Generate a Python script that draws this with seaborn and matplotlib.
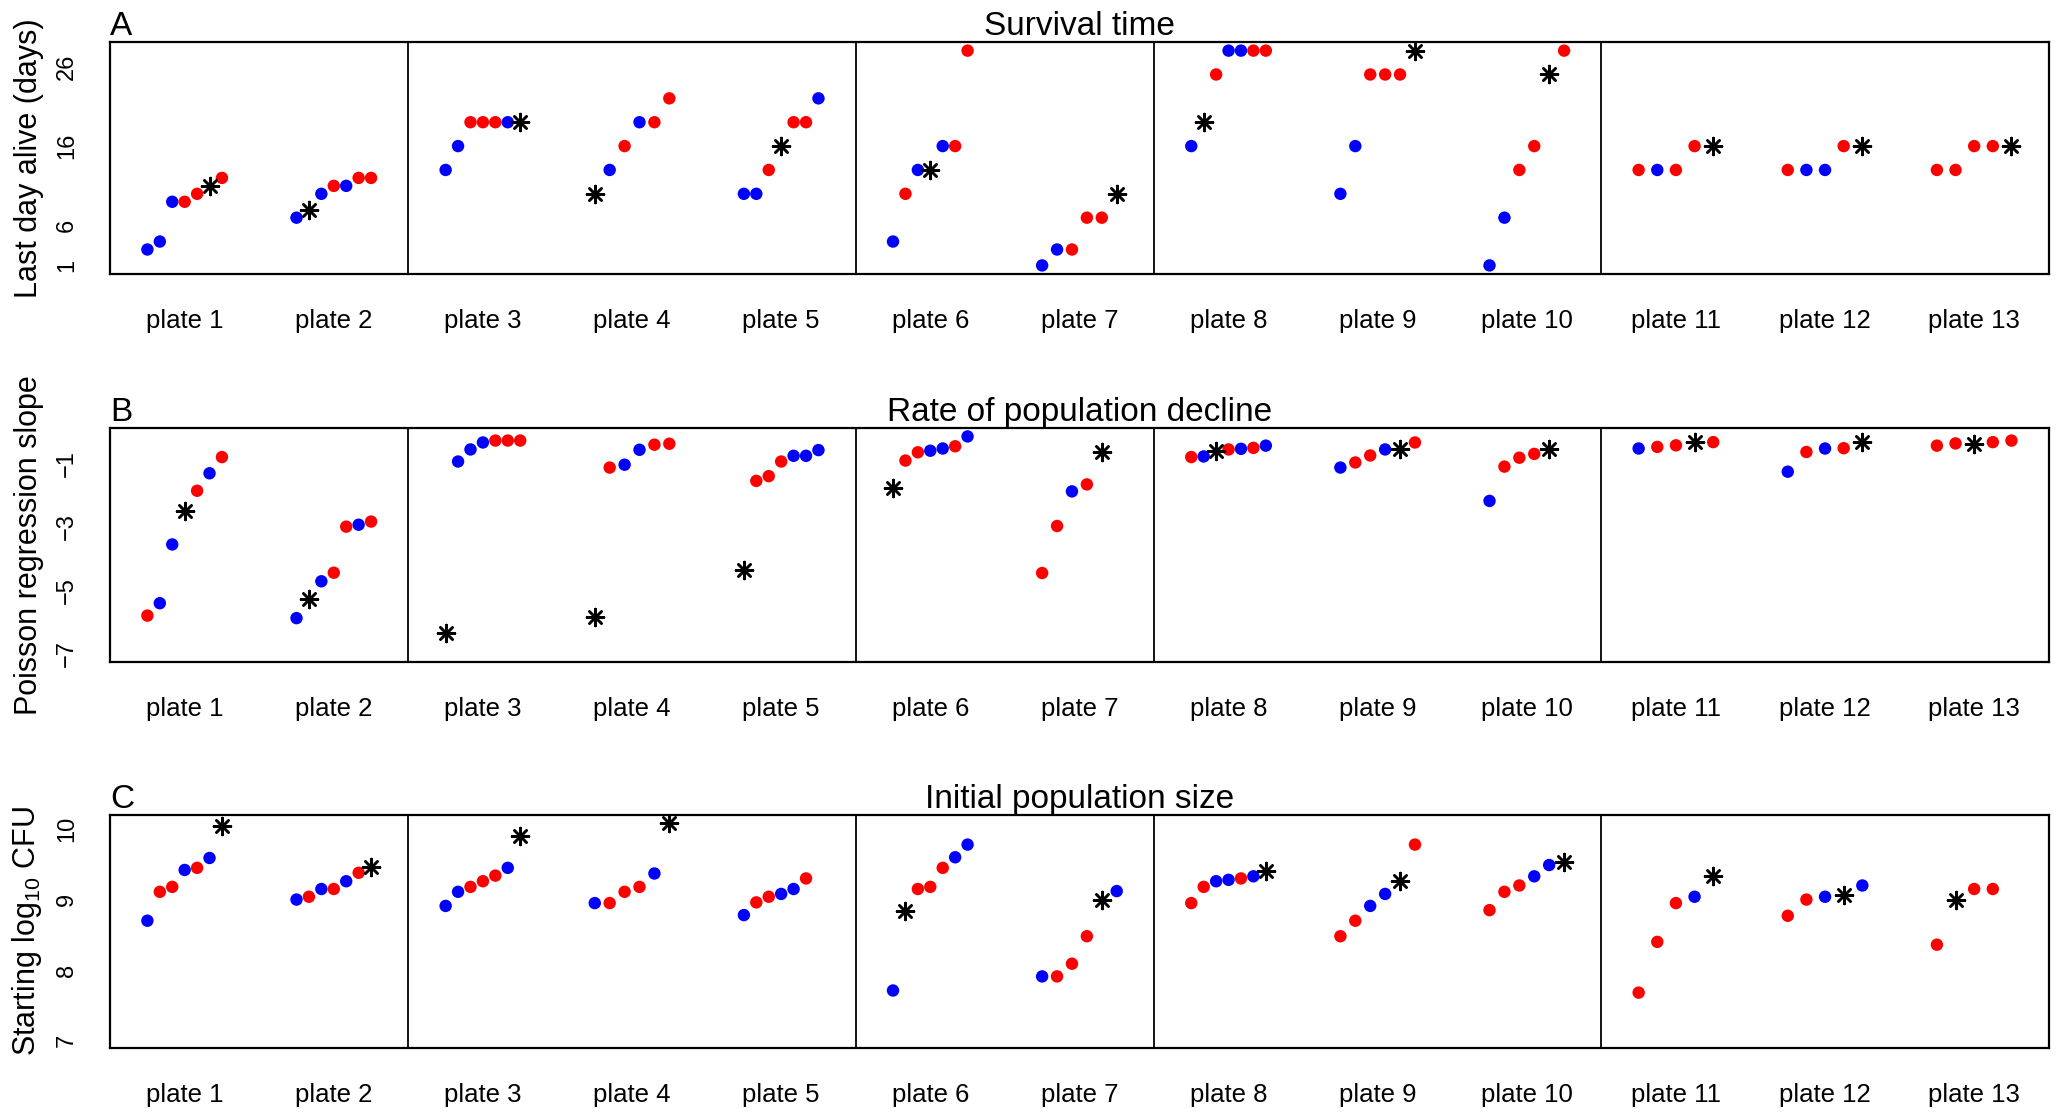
import numpy as np
import pandas as pd
import matplotlib
matplotlib.use("Agg")
import matplotlib.pyplot as plt
import seaborn as sns

sns.set_style("white")
plt.rcParams['font.family'] = ['Liberation Sans', 'DejaVu Sans']
plt.rcParams['text.color'] = 'black'
plt.rcParams['axes.labelcolor'] = 'black'
plt.rcParams['xtick.color'] = 'black'
plt.rcParams['ytick.color'] = 'black'

nan = np.nan
plates = ['plate %d' % i for i in range(1, 14)]

# group codes per well, sorted by value: b = blue, r = red, s = asterisk
surv_col = ["bbbrrsr", "bsbrbrr", "bbrrrbs", "sbrbrr", "bbrsrrb", "brbsbrr", "bbrrrs",
            "bsrbbrr", "bbrrrs", "bbrrsr", "rbrrs", "rbbrs", "rrrrs"]
surv_val = [[3, 4, 9, 9, 10, 11, 12], [7, 8, 10, 11, 11, 12, 12], [13, 16, 19, 19, 19, 19, 19],
            [10, 13, 16, 19, 19, 22], [10, 10, 13, 16, 19, 19, 22], [4, 10, 13, 13, 16, 16, 28],
            [1, 3, 3, 7, 7, 10], [16, 19, 25, 28, 28, 28, 28], [10, 16, 25, 25, 25, 28],
            [1, 7, 13, 16, 25, 28], [13, 13, 13, 16, 16], [13, 13, 13, 16, 16], [13, 13, 16, 16, 16]]

rate_col = ["rbbsrbr", "bsbrrbr", "sbbbrrr", "srbbrr", "srrrbbb", "srrbbrb", "rrbrsb",
            "rbsrbrb", "brrbsr", "brrrsb", "brrsr", "brbrs", "rrsrr"]
rate_val = [[-5.80, -5.41, -3.56, -2.52, -1.87, -1.32, -0.81],
            [-5.88, -5.28, -4.72, -4.45, -3.00, -2.94, -2.84],
            [-6.35, -0.95, -0.57, -0.35, -0.29, -0.29, -0.29],
            [-5.86, -1.14, -1.05, -0.58, -0.42, -0.39],
            [-4.36, -1.56, -1.41, -0.95, -0.77, -0.77, -0.59],
            [-1.78, -0.92, -0.66, -0.61, -0.54, -0.47, -0.16],
            [-4.46, -2.98, -1.89, -1.67, -0.64, nan],
            [-0.81, -0.79, -0.63, -0.57, -0.55, -0.52, -0.45],
            [-1.14, -0.98, -0.76, -0.57, -0.57, -0.35],
            [-2.19, -1.11, -0.83, -0.71, -0.57, nan],
            [-0.54, -0.49, -0.44, -0.35, -0.34],
            [-1.27, -0.65, -0.54, -0.53, -0.35],
            [-0.45, -0.38, -0.39, -0.34, -0.29]]

init_col = ["brrbrbs", "brbrbrs", "bbrrrbs", "brrrbs", "brrbbrs", "bsrrrbb", "brrrsb",
            "rrbbrbs", "rrbbsr", "rrrbbs", "rrrbs", "rrbsb", "rsrrr"]
init_val = [[8.70, 9.11, 9.18, 9.42, 9.45, 9.59, 10.04],
            [9.00, 9.04, 9.15, 9.15, 9.26, 9.38, 9.46],
            [8.91, 9.11, 9.18, 9.26, 9.34, 9.45, 9.90],
            [8.95, 8.95, 9.11, 9.18, 9.37, 10.08],
            [8.78, 8.96, 9.04, 9.08, 9.15, 9.30, nan],
            [7.71, 8.84, 9.15, 9.18, 9.45, 9.60, 9.78],
            [7.91, 7.91, 8.09, 8.48, 9.00, 9.12],
            [8.95, 9.18, 9.26, 9.28, 9.30, 9.33, 9.40],
            [8.48, 8.70, 8.91, 9.08, 9.26, 9.78],
            [8.85, 9.11, 9.20, 9.33, 9.49, 9.53],
            [7.68, 8.40, 8.95, 9.04, 9.34],
            [8.77, 9.00, 9.04, 9.07, 9.20],
            [8.36, 9.00, 9.15, 9.15, nan]]


def build(cols, vals):
    rows = []
    for i, (c, v) in enumerate(zip(cols, vals)):
        offs = np.linspace(-0.25, 0.25, len(v))
        for g, y, o in zip(c, v, offs):
            rows.append({'x': i + 1 + o, 'y': y, 'grp': g})
    return pd.DataFrame(rows).dropna()


panels = [
    ('A', 'Survival time', 'Last day alive (days)', surv_col, surv_val,
     (-0.08, 29.08), [1, 6, 11, 16, 21, 26], ['1', '6', '', '16', '', '26']),
    ('B', 'Rate of population decline', 'Poisson regression slope', rate_col, rate_val,
     (-7.26, 0.105), [-7, -6, -5, -4, -3, -2, -1], ['\u22127', '', '\u22125', '', '\u22123', '', '\u22121']),
    ('C', 'Initial population size', r'Starting log$_{\mathregular{10}}$ CFU', init_col, init_val,
     (6.895, 10.2), [7, 8, 9, 10], ['7', '8', '9', '10']),
]

fig = plt.figure(figsize=(20.58, 11.12), dpi=100)
bottoms = [0.7536, 0.4047, 0.0576]
heights = [0.2086, 0.2104, 0.2095]

for (letter, title, ylab, cols, vals, ylim, yt, ytl), b, h in zip(panels, bottoms, heights):
    ax = fig.add_axes([0.0535, b, 0.942, h])
    df = build(cols, vals)
    dots = df[df.grp != 's']
    stars = df[df.grp == 's']
    sns.scatterplot(data=dots, x='x', y='y', hue='grp', palette={'b': '#0000ff', 'r': '#ff0000'},
                    s=80, linewidth=0, legend=False, ax=ax, zorder=3)
    sns.scatterplot(data=stars, x='x', y='y', marker=(8, 2, 0), color='black',
                    s=150, linewidth=1.8, legend=False, ax=ax, zorder=3)
    for xv in [2.5, 5.5, 7.5, 10.5]:
        ax.axvline(xv, color='black', lw=1.3)
    ax.set_xlim(0.5, 13.5)
    ax.set_ylim(*ylim)
    ax.set_xticks(range(1, 14))
    ax.set_xticklabels(plates)
    ax.set_yticks(yt)
    ax.set_yticklabels(ytl, rotation=90, va='center')
    ax.tick_params(axis='both', direction='out', length=11, width=1.3, color='black',
                   labelcolor='black')
    ax.tick_params(axis='x', labelsize=18.5, pad=14)
    ax.tick_params(axis='y', labelsize=17, pad=12)
    for sp in ax.spines.values():
        sp.set_visible(True)
        sp.set_color('black')
        sp.set_linewidth(1.6)
    ax.set_xlabel('')
    ax.set_ylabel(ylab, fontsize=22, color='black')
    ax.yaxis.set_label_coords(-0.034, 0.5)
    ax.set_title(title, fontsize=24, pad=5, color='black')
    ax.set_title(letter, loc='left', fontsize=24, pad=5, color='black')

fig.savefig('out.png', dpi=100)
